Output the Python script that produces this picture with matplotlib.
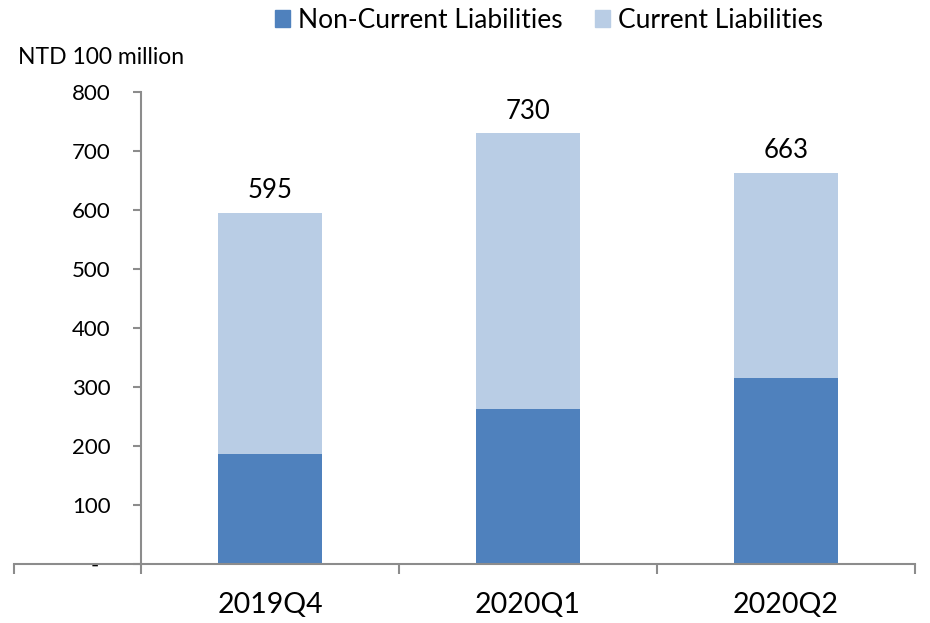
import matplotlib
matplotlib.use("Agg")
import matplotlib.pyplot as plt
from matplotlib.patches import Patch

categories = ["2019Q4", "2020Q1", "2020Q2"]
non_current = [186, 263, 315]
current = [409, 467, 348]
totals = [595, 730, 663]
yticks = [0, 100, 200, 300, 400, 500, 600, 700, 800]
ytick_labels = ["-  ", "100", "200", "300", "400", "500", "600", "700", "800"]

plt.rcParams['font.family'] = ['Lato', 'DejaVu Sans']

c_dark = "#4F81BD"
c_light = "#B9CDE5"
gray = "#8C8C8C"

fig = plt.figure(figsize=(9.3, 6.23), dpi=100)
ax = fig.add_axes([14/930, 1-564/623, (915-14)/930, (564-92)/623])

x = list(range(len(categories)))
ax.bar(x, non_current, width=0.40, color=c_dark, label="Non-Current Liabilities", zorder=2)
ax.bar(x, current, width=0.40, bottom=non_current, color=c_light, label="Current Liabilities", zorder=2)

for xi, t in zip(x, totals):
    ax.annotate(str(t), (xi, t), xytext=(0, 7), textcoords="offset points",
                ha="center", va="bottom", fontsize=18.5, color="black")

left = -0.5 - 127/258
ax.set_xlim(left, 2.5)
ax.set_ylim(0, 800)

for s in ["top", "right"]:
    ax.spines[s].set_visible(False)
ax.spines["left"].set_position(("data", -0.5))
ax.spines["left"].set_color(gray)
ax.spines["bottom"].set_color(gray)
ax.spines["left"].set_linewidth(1.5)
ax.spines["bottom"].set_linewidth(1.5)

ax.set_yticks(yticks)
ax.set_yticklabels(ytick_labels, fontsize=16)
ax.tick_params(axis="y", length=6, width=1.5, color=gray, pad=16)

ax.set_xticks([left, -0.5, 0.5, 1.5, 2.5])
ax.set_xticklabels([])
ax.tick_params(axis="x", which="major", length=7, width=1.5, color=gray, direction="out")
ax.set_xticks(x, minor=True)
ax.set_xticklabels(categories, minor=True, fontsize=20.5)
ax.tick_params(axis="x", which="minor", length=0, pad=20)

fig.text(18/930, 1-57/623, "NTD 100 million", ha="left", va="center", fontsize=16.5)

handles = [Patch(color=c_dark), Patch(color=c_light)]
fig.legend(handles, ["Non-Current Liabilities", "Current Liabilities"], loc="center",
           bbox_to_anchor=(549/930, 1-20/623), ncol=2, frameon=False, fontsize=19,
           handlelength=0.6, handleheight=0.6, handletextpad=0.3, columnspacing=1.2)

fig.savefig("out.png", dpi=100)
